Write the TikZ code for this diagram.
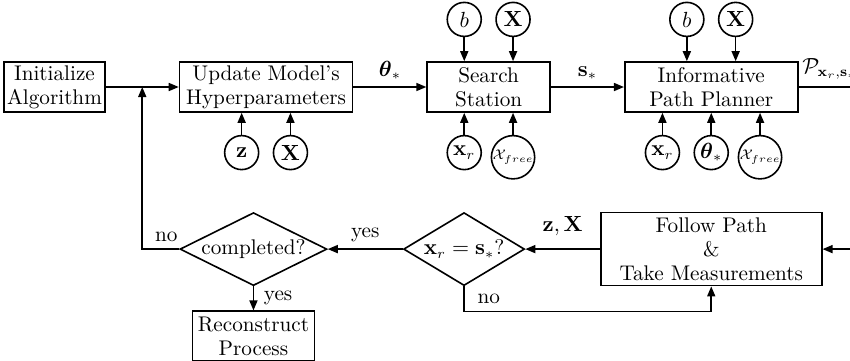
\documentclass[tikz,border=0pt]{standalone}
\usepackage{amsmath}
\usetikzlibrary{
  arrows.meta,
  calc,
  positioning,
  shapes.geometric,
}
\tikzset{
  >={Triangle[length=5pt,width=4pt]},
  box/.style={draw,thick,rectangle,align=center,minimum height=25pt,inner sep=1.5pt},
  var/.style={draw,thick,circle,minimum size=17pt,inner sep=0pt},
  decision/.style={draw,thick,diamond,aspect=2,inner sep=0pt,minimum height=36.5pt},
}

\begin{document}
\begin{tikzpicture}[node distance=36.5pt and 36.5pt, thick, font=\fontsize{10.6}{12}\selectfont]
    \useasboundingbox (0,0) rectangle (425pt,-180pt);

    % main chain
    \node[box,minimum width=49.5pt]    (init)    at (27.25pt,-43.5pt) {Initialize\\Algorithm};
    \node[box,minimum width=86.5pt]    (hyper)   [right=of init]      {Update Model's\\Hyperparameters};
    \node[box,minimum width=61.5pt]    (search)  [right=of hyper]     {Search\\Station};
    \node[box,minimum width=86.5pt]    (planner) [right=of search]    {Informative\\Path Planner};

    % inputs of each block
    \node[var,xshift=-12.2pt]     (hz)     [below=11pt of hyper.south]   {$\mathbf{z}$};
    \node[var,xshift=12.2pt]      (hX)     [below=11pt of hyper.south]   {$\mathbf{X}$};
    \node[var,xshift=-12.2pt]     (sb)     [above=12pt of search.north]  {$b$};
    \node[var,xshift=12.2pt]      (sX)     [above=12pt of search.north]  {$\mathbf{X}$};
    \node[var,xshift=-12.2pt]     (sxr)    [below=11pt of search.south]  {$\mathbf{x}_r$};
    \node[var,xshift=12.2pt]      (sfree)  [below=11pt of search.south]  {\scriptsize$\mathcal{X}_{free}$};
    \node[var,xshift=-12.2pt]     (pb)     [above=12pt of planner.north] {$b$};
    \node[var,xshift=12.2pt]      (pX)     [above=12pt of planner.north] {$\mathbf{X}$};
    \node[var,xshift=-24.4pt]     (pxr)    [below=11pt of planner.south] {$\mathbf{x}_r$};
    \node[var]                    (ptheta) [below=11pt of planner.south] {$\boldsymbol{\theta}_*$};
    \node[var,xshift=24.4pt]      (pfree)  [below=11pt of planner.south] {\scriptsize$\mathcal{X}_{free}$};

    % lower loop
    \node[box,minimum width=110.5pt,minimum height=36.5pt] (follow) [below=49.5pt of planner] {Follow Path\\\&\\Take Measurements};
    \node[decision,minimum width=60.5pt] (check) [left=37.3pt of follow] {$\mathbf{x}_r=\mathbf{s}_*$?};
    \node[decision,minimum width=73.5pt] (done)  [left=37.5pt of check]  {completed?};
    \node[box,minimum width=61pt]        (recon) [below=12pt of done]    {Reconstruct\\Process};

    \coordinate (join) at ($(init.east)!0.5!(hyper.west)$);

    % connectors
    \draw[->] (init) -- (hyper);
    \draw[->] (hyper) -- node[above] {$\boldsymbol{\theta}_*$} (search);
    \draw[->] (search) -- node[above] {$\mathbf{s}_*$} (planner);
    \draw[->] (planner.east) -- node[above] {$\mathcal{P}_{\mathbf{x}_r,\mathbf{s}_*}$} ++(31pt,0) |- (follow.east);

    \foreach \v in {hz,hX} \draw[->] (\v) -- (\v |- hyper.south);
    \foreach \v in {sb,sX} \draw[->] (\v) -- (\v |- search.north);
    \foreach \v in {sxr,sfree} \draw[->] (\v) -- (\v |- search.south);
    \foreach \v in {pb,pX} \draw[->] (\v) -- (\v |- planner.north);
    \foreach \v in {pxr,ptheta,pfree} \draw[->] (\v) -- (\v |- planner.south);

    \draw[->] (follow) -- node[above=3pt] {$\mathbf{z},\mathbf{X}$} (check);
    \draw[->] (check) -- node[above] {yes} (done);
    \draw[->] (check.south) -- node[right=3pt] {no} ++(0,-12.5pt) -| (follow.south);
    \draw[->] (done) -- node[right=1.5pt] {yes} (recon);
    \draw[->] (done.west) -- node[above,pos=0.35] {no} (done.west -| join) -- (join);
\end{tikzpicture}
\end{document}
